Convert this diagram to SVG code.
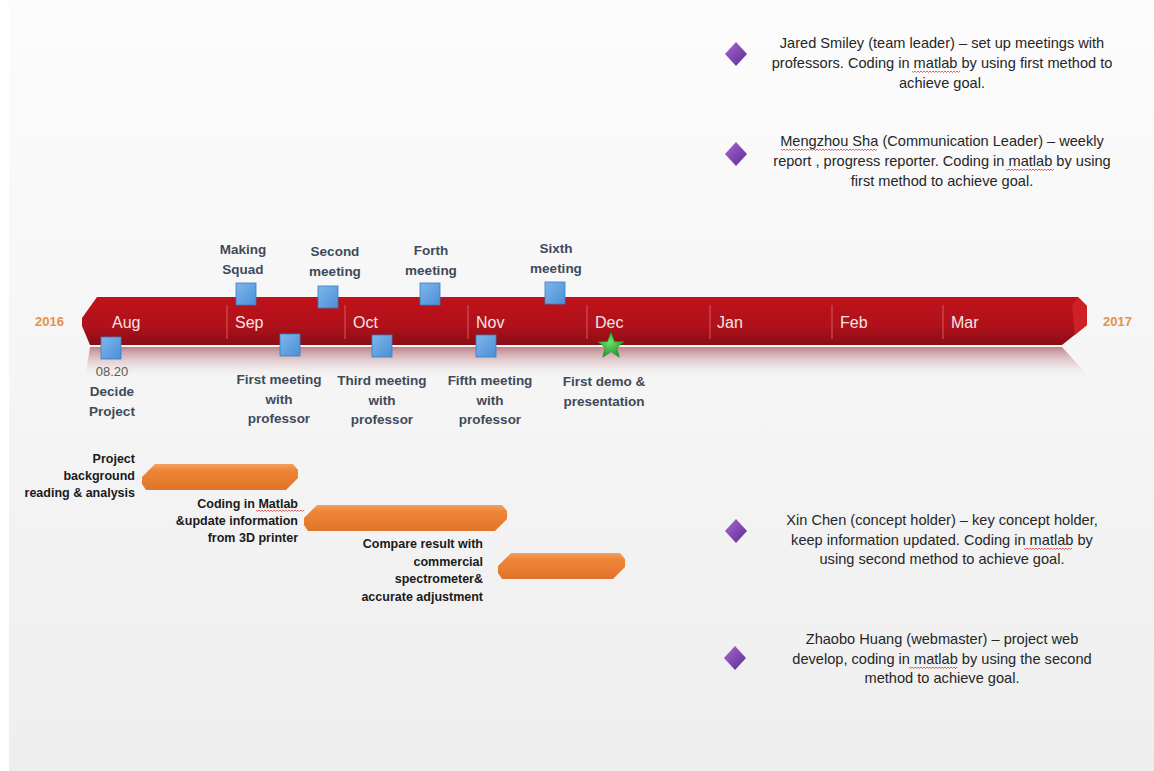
<svg xmlns="http://www.w3.org/2000/svg" width="1154" height="771" viewBox="0 0 1154 771">
<defs>
<linearGradient id="bg" x1="0" y1="0" x2="0" y2="1">
<stop offset="0" stop-color="#fcfcfc"/>
<stop offset="1" stop-color="#eeeeee"/>
</linearGradient>
<linearGradient id="red" x1="0" y1="0" x2="0" y2="1">
<stop offset="0" stop-color="#c0121a"/>
<stop offset="0.6" stop-color="#b0111a"/>
<stop offset="1" stop-color="#8a0d14"/>
</linearGradient>
<linearGradient id="refl" x1="0" y1="0" x2="0" y2="1">
<stop offset="0" stop-color="#b7757c" stop-opacity="0.9"/>
<stop offset="1" stop-color="#efe6e7" stop-opacity="0"/>
</linearGradient>
<linearGradient id="orange" x1="0" y1="0" x2="0" y2="1">
<stop offset="0" stop-color="#f4a060"/>
<stop offset="0.25" stop-color="#ee8636"/>
<stop offset="1" stop-color="#e0742a"/>
</linearGradient>
<linearGradient id="blue" x1="0" y1="0" x2="1" y2="1">
<stop offset="0" stop-color="#7fb6ec"/>
<stop offset="1" stop-color="#4a8fd6"/>
</linearGradient>
<linearGradient id="purple" x1="0" y1="0" x2="1" y2="1">
<stop offset="0" stop-color="#a768d4"/>
<stop offset="1" stop-color="#5e2a91"/>
</linearGradient>
<radialGradient id="green" cx="0.45" cy="0.4" r="0.6">
<stop offset="0" stop-color="#6fe06a"/>
<stop offset="1" stop-color="#1a9a2a"/>
</radialGradient>
<rect id="sq" x="-10" y="-11" width="20" height="22" fill="url(#blue)" stroke="#3d7cc0" stroke-width="0.8"/>
<polygon id="dia" points="0,-12 11,0 0,12 -11,0" fill="url(#purple)"/>
<path id="squig" d="M0,0 l1.5,1.5 l1.5,-1.5 l1.5,1.5 l1.5,-1.5 l1.5,1.5 l1.5,-1.5 l1.5,1.5 l1.5,-1.5 l1.5,1.5 l1.5,-1.5 l1.5,1.5 l1.5,-1.5 l1.5,1.5 l1.5,-1.5 l1.5,1.5 l1.5,-1.5 l1.5,1.5 l1.5,-1.5 l1.5,1.5 l1.5,-1.5 l1.5,1.5 l1.5,-1.5 l1.5,1.5 l1.5,-1.5 l1.5,1.5 l1.5,-1.5 l1.5,1.5 l1.5,-1.5 l1.5,1.5 l1.5,-1.5 l1.5,1.5 l1.5,-1.5" fill="none" stroke="#d22" stroke-width="0.7"/>
</defs>
<style>
.lbl{font-family:"Liberation Sans",Arial,sans-serif;font-weight:bold;font-size:13.5px;fill:#3f4a5a;text-anchor:middle}
.mon{font-family:"Liberation Sans",Arial,sans-serif;font-size:16px;fill:#f6e4e4;}
.yr{font-family:"Liberation Sans",Arial,sans-serif;font-weight:bold;font-size:13px;fill:#e5904a}
.task{font-family:"Liberation Sans",Arial,sans-serif;font-weight:bold;font-size:12.5px;fill:#1a1a1a;text-anchor:end}
.desc{font-family:"Liberation Sans",Arial,sans-serif;font-size:14.6px;fill:#262626;text-anchor:middle}
.date{font-family:"Liberation Sans",Arial,sans-serif;font-size:13px;fill:#5a5a5a;text-anchor:middle}
.div{stroke:#d9585e;stroke-width:1}
</style>
<rect x="0" y="0" width="1154" height="771" fill="#ffffff"/>
<rect x="9" y="0" width="1145" height="771" fill="url(#bg)"/>

<g id="timeline">
<polygon points="90,347 1062,347 1090,378 85,378" fill="url(#refl)"/>
<polygon points="97,297 1078,297 1087,306 1087,325 1062,345 90,345 82,326 82,318" fill="url(#red)"/>
<polygon points="1078,297 1087,306 1087,325 1075,335 1072,305" fill="#d4242b" opacity="0.8"/>
<line class="div" x1="227" y1="305" x2="227" y2="339"/>
<line class="div" x1="345" y1="305" x2="345" y2="339"/>
<line class="div" x1="468" y1="305" x2="468" y2="339"/>
<line class="div" x1="587" y1="305" x2="587" y2="339"/>
<line class="div" x1="710" y1="305" x2="710" y2="339"/>
<line class="div" x1="832" y1="305" x2="832" y2="339"/>
<line class="div" x1="943" y1="305" x2="943" y2="339"/>
<text class="mon" x="112" y="328">Aug</text>
<text class="mon" x="235" y="328">Sep</text>
<text class="mon" x="353" y="328">Oct</text>
<text class="mon" x="476" y="328">Nov</text>
<text class="mon" x="595" y="328">Dec</text>
<text class="mon" x="717" y="328">Jan</text>
<text class="mon" x="840" y="328">Feb</text>
<text class="mon" x="951" y="328">Mar</text>
<text class="yr" x="35" y="326">2016</text>
<text class="yr" x="1103" y="326">2017</text>
</g>

<g id="m-decide">
<use href="#sq" x="111" y="348"/>
<text class="date" x="112" y="376">08.20</text>
<text class="lbl" x="112" y="396">Decide</text>
<text class="lbl" x="112" y="416">Project</text>
</g>
<g id="m-squad">
<use href="#sq" x="246" y="294"/>
<text class="lbl" x="243" y="254">Making</text>
<text class="lbl" x="243" y="274">Squad</text>
</g>
<g id="m-first">
<use href="#sq" x="290" y="345"/>
<text class="lbl" x="279" y="384">First meeting</text>
<text class="lbl" x="279" y="404">with</text>
<text class="lbl" x="279" y="423">professor</text>
</g>
<g id="m-second">
<use href="#sq" x="328" y="297"/>
<text class="lbl" x="335" y="256">Second</text>
<text class="lbl" x="335" y="276">meeting</text>
</g>
<g id="m-third">
<use href="#sq" x="382" y="346"/>
<text class="lbl" x="382" y="385">Third meeting</text>
<text class="lbl" x="382" y="405">with</text>
<text class="lbl" x="382" y="424">professor</text>
</g>
<g id="m-forth">
<use href="#sq" x="430" y="294"/>
<text class="lbl" x="431" y="255">Forth</text>
<text class="lbl" x="431" y="275">meeting</text>
</g>
<g id="m-fifth">
<use href="#sq" x="486" y="346"/>
<text class="lbl" x="490" y="385">Fifth meeting</text>
<text class="lbl" x="490" y="405">with</text>
<text class="lbl" x="490" y="424">professor</text>
</g>
<g id="m-sixth">
<use href="#sq" x="555" y="293"/>
<text class="lbl" x="556" y="253">Sixth</text>
<text class="lbl" x="556" y="273">meeting</text>
</g>
<g id="m-demo">
<polygon points="611,332 614.5,341.5 624.3,341.7 616.6,347.8 619.3,357.2 611,351.6 602.7,357.2 605.4,347.8 597.7,341.7 607.5,341.5" fill="url(#green)" stroke="#188a24" stroke-width="0.6"/>
<text class="lbl" x="604" y="386">First demo &amp;</text>
<text class="lbl" x="604" y="406">presentation</text>
</g>

<g id="task1">
<polygon points="155,464 293,464 298,470 298,478 286,490 146,490 142,484 142,477" fill="url(#orange)"/>
<text class="task" x="135" y="463">Project</text>
<text class="task" x="135" y="480">background</text>
<text class="task" x="135" y="497">reading &amp; analysis</text>
</g>
<g id="task2">
<polygon points="317,505 502,505 507,511 507,519 495,531 308,531 304,525 304,518" fill="url(#orange)"/>
<text class="task" x="298" y="508">Coding in Matlab</text>
<text class="task" x="298" y="525">&amp;update information</text>
<text class="task" x="298" y="542">from 3D printer</text>
<use href="#squig" x="256" y="510"/>
</g>
<g id="task3">
<polygon points="511,553 620,553 625,559 625,567 613,579 502,579 498,573 498,566" fill="url(#orange)"/>
<text class="task" x="483" y="548">Compare result with</text>
<text class="task" x="483" y="566">commercial</text>
<text class="task" x="483" y="583">spectrometer&amp;</text>
<text class="task" x="483" y="601">accurate adjustment</text>
</g>

<g id="member-jared">
<use href="#dia" x="736" y="54"/>
<text class="desc" x="942" y="48">Jared Smiley (team leader) – set up meetings with</text>
<text class="desc" x="942" y="68">professors. Coding in matlab by using first method to</text>
<text class="desc" x="942" y="88">achieve goal.</text>
<use href="#squig" x="912" y="71"/>
</g>
<g id="member-mengzhou">
<use href="#dia" x="736" y="154"/>
<text class="desc" x="942" y="146">Mengzhou Sha (Communication Leader) – weekly</text>
<text class="desc" x="942" y="166">report , progress reporter. Coding in matlab by using</text>
<text class="desc" x="942" y="186">first method to achieve goal.</text>
<use href="#squig" x="781" y="149"/>
<use href="#squig" x="829" y="149"/>
<use href="#squig" x="1006" y="169"/>
</g>
<g id="member-xin">
<use href="#dia" x="736" y="531"/>
<text class="desc" x="942" y="525">Xin Chen (concept holder) – key concept holder,</text>
<text class="desc" x="942" y="545">keep information updated. Coding in matlab by</text>
<text class="desc" x="942" y="564">using second method to achieve goal.</text>
<use href="#squig" x="1024" y="548"/>
</g>
<g id="member-zhaobo">
<use href="#dia" x="735" y="658"/>
<text class="desc" x="942" y="644">Zhaobo Huang (webmaster) – project web</text>
<text class="desc" x="942" y="664">develop, coding in matlab by using the second</text>
<text class="desc" x="942" y="683">method to achieve goal.</text>
<use href="#squig" x="909" y="667"/>
</g>
</svg>
